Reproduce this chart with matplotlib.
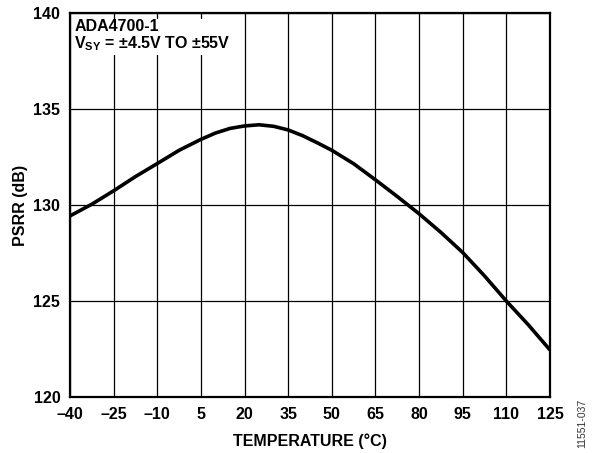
import matplotlib
matplotlib.use("Agg")
import matplotlib.pyplot as plt

# PSRR vs temperature
temperature = [-40, -32.5, -25, -17.5, -10, -2.5, 5, 10, 15, 20, 25, 30, 35, 40,
               45, 50, 57.5, 65, 72.5, 80, 87.5, 95, 102.5, 110, 117.5, 125]
psrr = [129.44, 130.05, 130.75, 131.49, 132.17, 132.86, 133.43, 133.76, 134.00,
        134.13, 134.19, 134.11, 133.92, 133.62, 133.25, 132.86, 132.16, 131.32,
        130.45, 129.55, 128.58, 127.53, 126.31, 125.0, 123.77, 122.45]

x_ticks = [-40, -25, -10, 5, 20, 35, 50, 65, 80, 95, 110, 125]
x_tick_labels = ["–40", "–25", "–10", "5", "20", "35", "50", "65", "80", "95", "110", "125"]
y_ticks = [120, 125, 130, 135, 140]

plt.rcParams['font.family'] = ['Liberation Sans', 'DejaVu Sans']
plt.rcParams['mathtext.fontset'] = 'custom'
plt.rcParams['mathtext.rm'] = 'Liberation Sans:bold'
plt.rcParams['mathtext.bf'] = 'Liberation Sans:bold'

fig = plt.figure(figsize=(5.97, 4.53), dpi=100)
ax = fig.add_axes([0.1173, 0.1236, 0.804, 0.847])

ax.plot(temperature, psrr, color='black', linewidth=2.6, zorder=3,
        solid_joinstyle='round', solid_capstyle='butt')

ax.set_xlim(-40, 125)
ax.set_ylim(120, 140)
ax.set_xticks(x_ticks)
ax.set_xticklabels(x_tick_labels)
ax.set_yticks(y_ticks)

ax.grid(True, color='black', linewidth=0.9)
ax.tick_params(length=0, labelsize=11.5, pad=7)
for lbl in ax.get_xticklabels() + ax.get_yticklabels():
    lbl.set_fontweight('bold')
for side in ['left', 'right', 'top', 'bottom']:
    ax.spines[side].set_linewidth(1.6)

ax.set_xlabel("TEMPERATURE (°C)", fontsize=11.5, fontweight='bold')
ax.set_ylabel("PSRR (dB)", fontsize=11.5, fontweight='bold')
ax.xaxis.set_label_coords(0.5, -0.1165)
ax.xaxis.label.set_va('center')
ax.yaxis.set_label_coords(-0.1027, 0.5)
ax.yaxis.label.set_va('center')

ax.text(0.009, 0.985, "ADA4700-1\nV$_{\\mathbf{SY}}$ = ±4.5V TO ±55V",
        transform=ax.transAxes, ha='left', va='top', fontsize=11.5,
        fontweight='bold', linespacing=1.0, zorder=4,
        bbox=dict(facecolor='white', edgecolor='none', pad=1.5))

fig.text(0.975, 0.066, "11551-037", rotation=90, ha='center', va='center',
         fontsize=7.5, color='#333333')

fig.savefig("out.png", dpi=100)
